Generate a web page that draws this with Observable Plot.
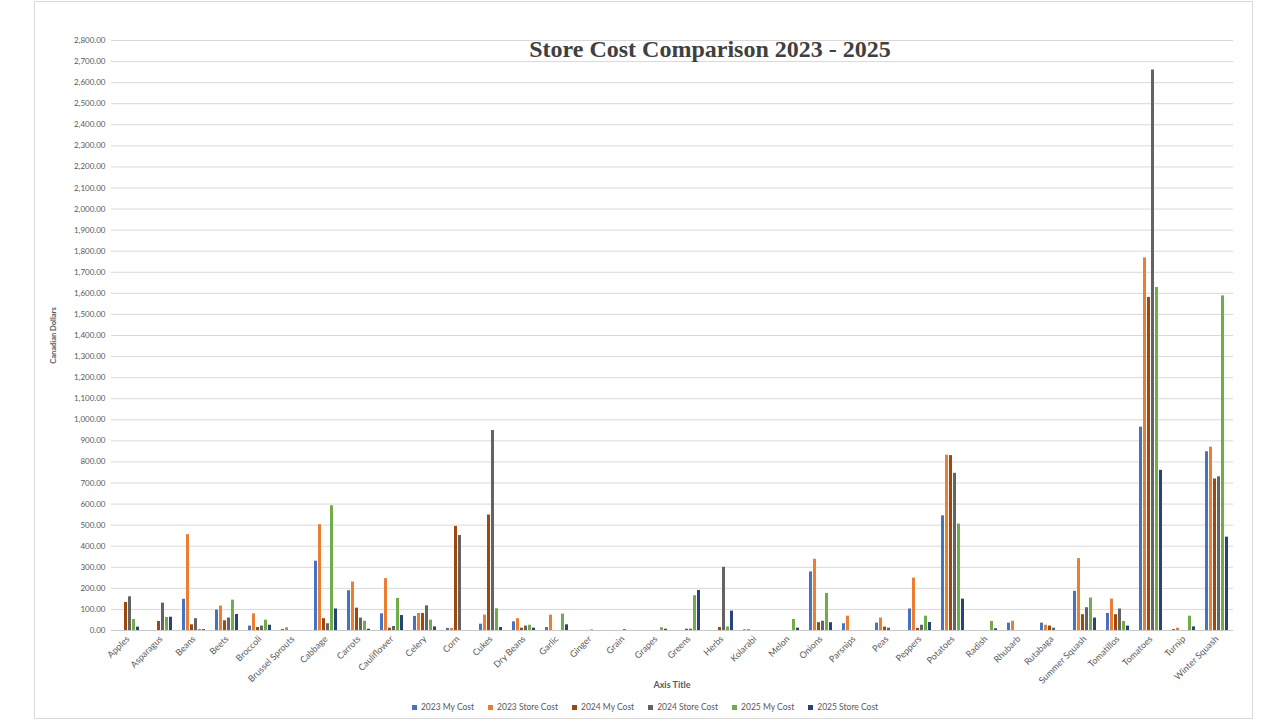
<!DOCTYPE html>
<html>
<head>
<meta charset="utf-8">
<script src="https://cdn.jsdelivr.net/npm/d3@7"></script>
<script src="https://cdn.jsdelivr.net/npm/@observablehq/plot@0.6"></script>
<style>
  body { margin: 0; background: #fff; font-family: Lato, "Open Sans", sans-serif; }
  #wrap { position: relative; width: 1280px; height: 720px; overflow: hidden; background: #fff; }
  #frame { position: absolute; left: 34px; top: 1px; width: 1219px; height: 718px; border: 1px solid #d9d9d9; box-sizing: border-box; }
  #chart { position: absolute; left: 0; top: 0; }
  #title { position: absolute; left: 410px; width: 600px; top: 37px; text-align: center; font-family: "Liberation Serif", "DejaVu Serif", serif; font-weight: bold; font-size: 24px; line-height: 24px; color: #404040; }
  #xtitle { position: absolute; left: 572px; width: 200px; top: 679px; text-align: center; font-weight: bold; font-size: 9px; line-height: 12px; color: #595959; }
  #legend { position: absolute; left: 0; width: 1290px; top: 701px; display: flex; justify-content: center; gap: 14px; font-size: 8.5px; line-height: 12px; color: #595959; }
  .item { display: flex; align-items: center; gap: 4px; }
  .sw { width: 5px; height: 5px; display: inline-block; }
  g[aria-label="fx-axis tick label"] { font-size: 9px; }
  g[aria-label="y-axis label"] { font-weight: bold; font-size: 7.5px; }
</style>
</head>
<body>
<div id="wrap">
  <div id="frame"></div>
  <div id="chart"></div>
  <div id="title">Store Cost Comparison 2023 - 2025</div>
  <div id="xtitle">Axis Title</div>
  <div id="legend"></div>
</div>
<script>
const categories = ["Apples","Asparagus","Beans","Beets","Broccoli","Brussel Sprouts","Cabbage","Carrots","Cauliflower","Celery","Corn","Cukes","Dry Beans","Garlic","Ginger","Grain","Grapes","Greens","Herbs","Kolarabi","Melon","Onions","Parsnips","Peas","Peppers","Potatoes","Radish","Rhubarb","Rutabaga","Summer Squash","Tomatillos","Tomatoes","Turnip","Winter Squash"];

const series = ["2023 My Cost","2023 Store Cost","2024 My Cost","2024 Store Cost","2025 My Cost","2025 Store Cost"];
const colors = ["#4472C4","#ED7D31","#9E480E","#636363","#70AD47","#264478"];

const myCost2023    = [0,0,148,97,21,5,329,189,79,67,10,30,41,14,0,0,0,0,0,3,0,278,32,35,102,544,0,35,35,186,81,965,5,848];
const storeCost2023 = [0,0,455,116,79,13,502,230,246,81,10,73,56,73,0,0,0,0,0,5,0,338,68,59,249,832,0,44,25,341,149,1768,11,870];
const myCost2024    = [133,43,27,46,14,0,56,106,11,81,494,548,11,0,0,0,0,6,14,0,0,37,0,16,10,830,0,0,21,75,75,1581,0,719];
const storeCost2024 = [160,130,56,59,21,0,32,59,19,117,451,949,21,0,2,4,0,6,300,0,0,44,0,11,25,746,0,0,11,108,102,2660,0,729];
const myCost2025    = [52,62,5,144,49,0,592,44,152,49,0,103,25,78,0,0,13,165,17,0,52,176,0,0,68,505,43,0,0,154,43,1628,68,1588];
const storeCost2025 = [16,63,4,76,25,0,102,6,71,17,0,14,11,27,0,0,6,190,92,0,11,37,0,0,38,149,8,0,0,59,21,760,17,443];

const yTicks = [0,100,200,300,400,500,600,700,800,900,1000,1100,1200,1300,1400,1500,1600,1700,1800,1900,2000,2100,2200,2300,2400,2500,2600,2700,2800];

const seriesValues = [myCost2023, storeCost2023, myCost2024, storeCost2024, myCost2025, storeCost2025];
const rows = [];
categories.forEach((c, i) => {
  series.forEach((s, j) => rows.push({category: c, series: s, value: seriesValues[j][i]}));
});

const chart = Plot.plot({
  width: 1280,
  height: 700,
  marginLeft: 101,
  marginRight: 37,
  marginTop: 40,
  marginBottom: 70,
  style: {fontFamily: "Lato, 'Open Sans', sans-serif", fontSize: "8px", color: "#595959", background: "transparent"},
  fx: {domain: categories, padding: 0, axis: "bottom", tickRotate: -45, tickSize: 0, tickPadding: 7, label: null},
  x: {domain: series, axis: null, paddingInner: 0.2, paddingOuter: 0.86},
  y: {domain: [0, 2800], ticks: yTicks, tickFormat: d3.format(",.2f"), tickSize: 0, tickPadding: 6, label: "Canadian Dollars", labelArrow: "none", labelAnchor: "center", labelOffset: 61},
  color: {domain: series, range: colors},
  marks: [
    Plot.ruleY(yTicks.slice(1), {stroke: "#d9d9d9"}),
    Plot.barY(rows, {fx: "category", x: "series", y: "value", fill: "series"}),
    Plot.ruleY([0], {stroke: "#c8c8c8"})
  ]
});
document.getElementById("chart").appendChild(chart);

const legend = document.getElementById("legend");
series.forEach((s, j) => {
  const it = document.createElement("div");
  it.className = "item";
  const sw = document.createElement("span");
  sw.className = "sw";
  sw.style.background = colors[j];
  const t = document.createElement("span");
  t.textContent = s;
  it.appendChild(sw);
  it.appendChild(t);
  legend.appendChild(it);
});
</script>
</body>
</html>
